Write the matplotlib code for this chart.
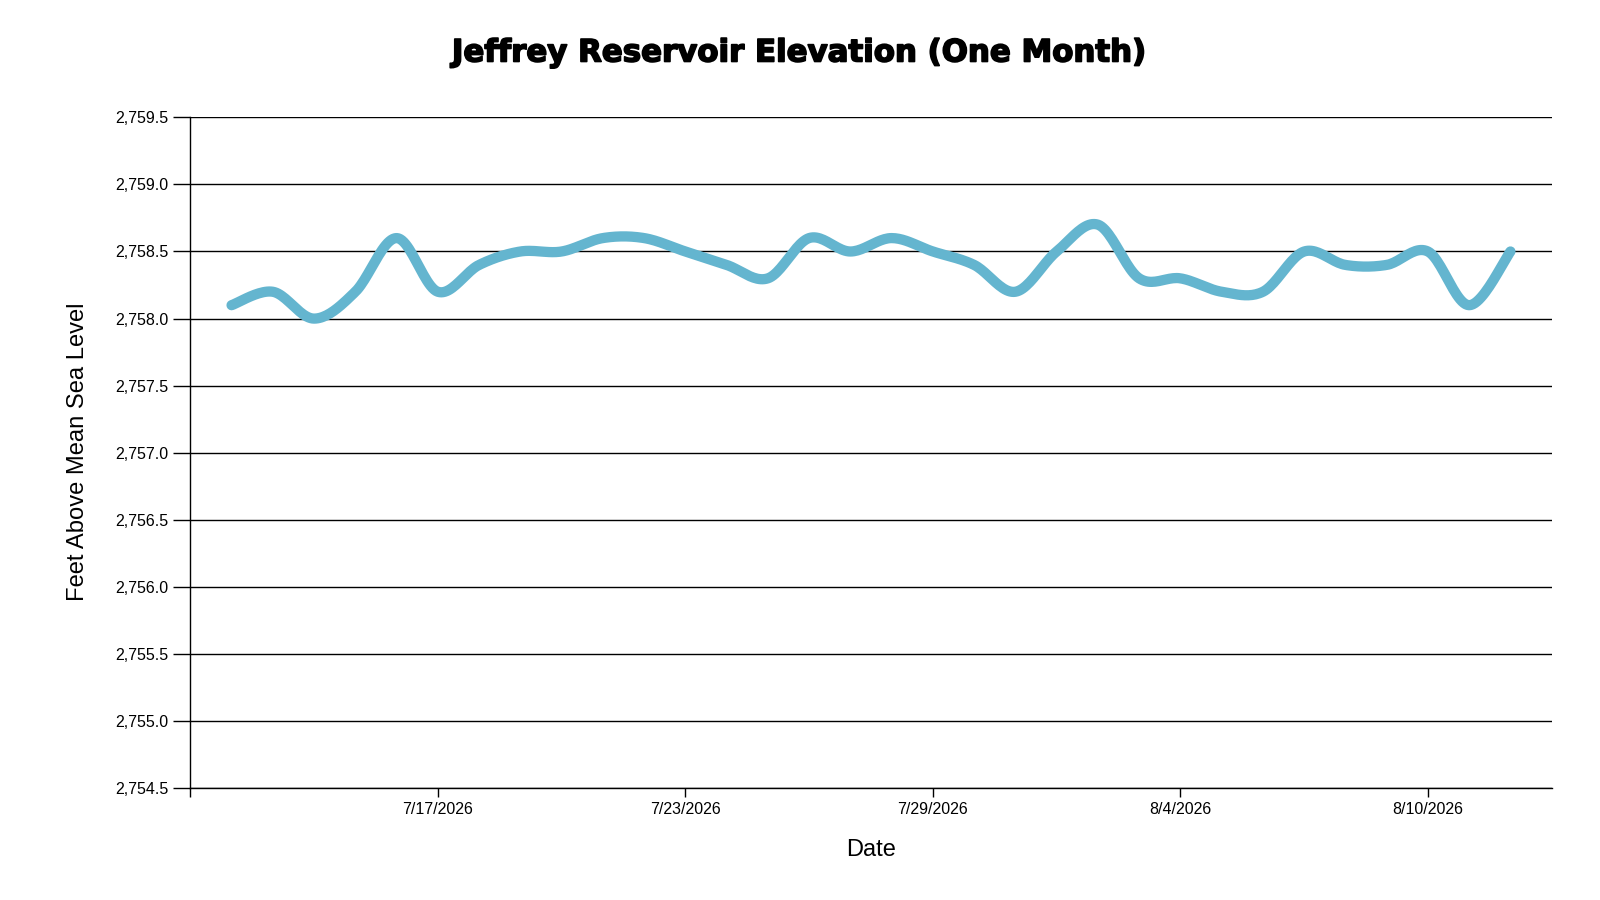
import numpy as np
import matplotlib
matplotlib.use("Agg")
import matplotlib.pyplot as plt
import matplotlib.dates as mdates
import matplotlib.patheffects as pe
from matplotlib.ticker import FuncFormatter
import datetime as dt

# daily elevation readings, 7/12/2026 - 8/12/2026
start_day = dt.date(2026, 7, 12)
elevation = [2758.1, 2758.2, 2758.0, 2758.2, 2758.6, 2758.2, 2758.4, 2758.5,
             2758.5, 2758.6, 2758.6, 2758.5, 2758.4, 2758.3, 2758.6, 2758.5,
             2758.6, 2758.5, 2758.4, 2758.2, 2758.5, 2758.7, 2758.3, 2758.3,
             2758.2, 2758.2, 2758.5, 2758.4, 2758.4, 2758.5, 2758.1, 2758.5]
dates = [start_day + dt.timedelta(days=i) for i in range(len(elevation))]

tick_dates = [dt.date(2026, 7, 17), dt.date(2026, 7, 23), dt.date(2026, 7, 29),
              dt.date(2026, 8, 4), dt.date(2026, 8, 10)]
tick_labels = ["7/17/2026", "7/23/2026", "7/29/2026", "8/4/2026", "8/10/2026"]
y_ticks = np.arange(2754.5, 2759.51, 0.5)


def cardinal(x, y, n=24):
    # like d3.curveCardinal (tension 0): bezier segments, ends use a doubled point
    p = np.column_stack([x, y]).astype(float)
    p = np.vstack([p[:1], p, p[-1:]])
    k = 1.0 / 6
    out = []
    t = np.linspace(0, 1, n)[:, None]
    for i in range(1, len(p) - 2):
        p0, p1, p2, p3 = p[i-1], p[i], p[i+1], p[i+2]
        c1 = p1 + k * (p2 - p0)
        c2 = p2 - k * (p3 - p1)
        seg = (1-t)**3 * p1 + 3*(1-t)**2*t * c1 + 3*(1-t)*t**2 * c2 + t**3 * p2
        out.append(seg if i == 1 else seg[1:])
    out = np.vstack(out)
    return out[:, 0], out[:, 1]


plt.rcParams['font.family'] = ['Liberation Sans', 'DejaVu Sans']

fig = plt.figure(figsize=(16, 9), dpi=100)
ax = fig.add_axes([190.3/1600, 1-788.3/900, (1551.7-190.3)/1600, (788.3-117.3)/900])

xnum = mdates.date2num(dates)
sx, sy = cardinal(xnum, elevation)
ax.plot(sx, sy, color="#64b5cf", lw=7.4, solid_capstyle="round", zorder=3)

ax.set_xlim(mdates.date2num(dt.date(2026, 7, 11)), mdates.date2num(dt.date(2026, 8, 13)))
ax.set_ylim(2754.5, 2759.5)

ax.set_yticks(y_ticks)
ax.yaxis.set_major_formatter(FuncFormatter(lambda v, p: f"{v:,.1f}"))
ax.set_xticks(mdates.date2num(tick_dates))
ax.set_xticklabels(tick_labels)
ax.set_xticks([mdates.date2num(dt.date(2026, 7, 11))], minor=True)

ax.grid(axis="y", color="black", lw=1.0)
for sp in ["top", "right"]:
    ax.spines[sp].set_visible(False)
for sp in ["left", "bottom"]:
    ax.spines[sp].set_linewidth(1.0)

ax.tick_params(axis="y", length=12.2, width=1.0, pad=3.4, labelsize=11.5)
ax.tick_params(axis="x", which="both", length=6.5, width=1.0, pad=3.2, labelsize=11.5)

fig.text(0.5, 1-53/900, "Jeffrey Reservoir Elevation (One Month)", ha="center", va="center",
         fontsize=22.2, fontweight="bold", family="DejaVu Sans",
         path_effects=[pe.withStroke(linewidth=1.2, foreground="black")])
fig.text(871/1600, 1-850.5/900, "Date", ha="center", va="center", fontsize=17)
fig.text(78/1600, 1-452/900, "Feet Above Mean Sea Level", ha="center", va="center",
         fontsize=17.1, rotation=90)

fig.savefig("out.png", dpi=100, facecolor="white")
